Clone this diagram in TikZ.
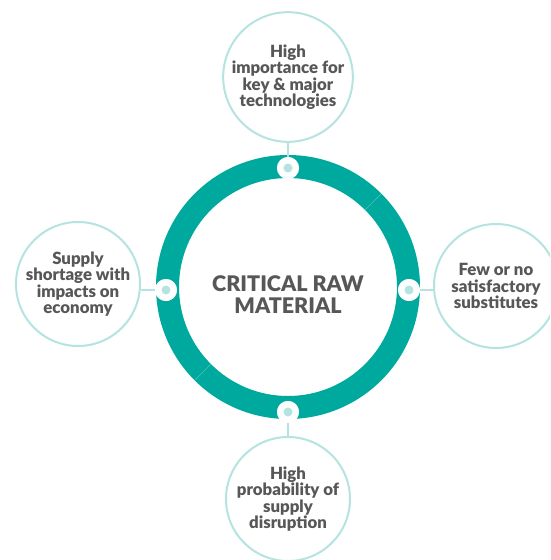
\documentclass[tikz,border=0pt]{standalone}
\usepackage{fontspec}
\setmainfont{Lato}[BoldFont={Lato Black}]
\definecolor{ringc}{HTML}{00A99D}
\definecolor{lightc}{HTML}{B4E3E0}
\definecolor{textc}{HTML}{575757}
\begin{document}
\begin{tikzpicture}[x=1pt,y=-1pt,
  sat/.style={circle,draw=lightc,line width=2pt,fill=white,minimum size=124pt,inner sep=0pt,
    align=center,text=textc,font=\bfseries\fontsize{16.8}{16.5}\selectfont},
  dotout/.style={circle,fill=white,minimum size=22pt,inner sep=0pt},
  dotin/.style={circle,fill=lightc,minimum size=9pt,inner sep=0pt},
  conn/.style={draw=lightc,line width=2pt},
  seam/.style={draw=ringc!70!white,line width=0.4pt}]
\useasboundingbox (0,0) rectangle (550,560);
\clip (0,0) rectangle (550,560);
% ring
\fill[ringc,even odd rule] (288,287) circle[radius=132] (288,287) circle[radius=109];
\coordinate (rc) at (288,287);
\draw[seam] ([shift={(-45:109)}]rc) -- ([shift={(-45:132)}]rc);
\draw[seam] ([shift={(135:109)}]rc) -- ([shift={(135:132)}]rc);
\node[text=textc,font=\bfseries\fontsize{21.5}{22}\selectfont,align=center] (center) at (288,295) {CRITICAL RAW\\MATERIAL};
% satellites
\node[sat] (top) at (288,77) {High\\importance for\\key \& major\\technologies};
\node[sat] (right) at (496,286) {Few or no\\satisfactory\\substitutes};
\node[sat] (left) at (78,284) {Supply\\shortage with\\impacts on\\economy};
\node[sat] (bottom) at (288,499) {High\\probability of\\supply\\disruption};
% dots
\node[dotout] (dt) at (288,168) {};
\node[dotout] (dr) at (409,290) {};
\node[dotout] (dl) at (166,290) {};
\node[dotout] (db) at (288,412) {};
\draw[conn] (dt.center) -- (top.south);
\draw[conn] (dr.center) -- (right.west |- dr.center);
\draw[conn] (dl.center) -- (left.east |- dl.center);
\draw[conn] (db.center) -- (bottom.north);
\node[dotout] at (dt) {};
\node[dotout] at (dr) {};
\node[dotout] at (dl) {};
\node[dotout] at (db) {};
\node[dotin] (it) at (dt) {};
\node[dotin] (ir) at (dr) {};
\node[dotin] (il) at (dl) {};
\node[dotin] (ib) at (db) {};
\end{tikzpicture}
\end{document}
